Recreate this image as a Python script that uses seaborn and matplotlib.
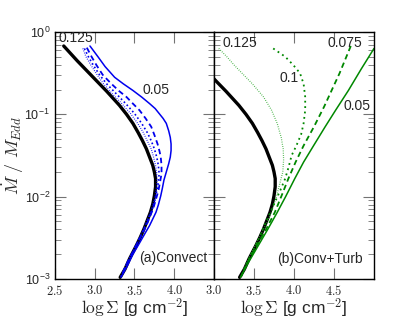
import numpy as np
import pandas as pd
import seaborn as sns
import matplotlib
matplotlib.use("Agg")
import matplotlib.pyplot as plt
from matplotlib.ticker import FixedLocator, FixedFormatter, LogLocator, NullFormatter

# reference curve (black, both panels): log(Mdot/MEdd) vs log Sigma
ref_logm = [-0.17, -0.35, -0.55, -0.72, -0.89, -1.00, -1.11, -1.22, -1.32, -1.42, -1.52, -1.62, -1.70,
            -1.78, -1.88, -1.99, -2.09, -2.19, -2.29, -2.39, -2.50, -2.60, -2.75, -2.88, -2.98]
ref_x = [2.61, 2.78, 2.98, 3.15, 3.31, 3.40, 3.48, 3.545, 3.60, 3.65, 3.69, 3.73, 3.75,
         3.765, 3.765, 3.75, 3.73, 3.70, 3.66, 3.62, 3.57, 3.52, 3.44, 3.38, 3.32]

# (a) convection only, blue
conv_005_logm = [-0.17, -0.30, -0.42, -0.55, -0.63, -0.71, -0.79, -0.87, -0.93, -0.99, -1.05, -1.11, -1.20,
                 -1.28, -1.36, -1.44, -1.52, -1.60, -1.70, -1.80, -1.90, -1.99, -2.10, -2.19, -2.27, -2.35,
                 -2.45, -2.56, -2.70, -2.84, -2.98]
conv_005_x = [2.94, 3.04, 3.13, 3.25, 3.36, 3.48, 3.59, 3.69, 3.76, 3.81, 3.86, 3.90, 3.93,
              3.95, 3.96, 3.96, 3.95, 3.93, 3.90, 3.87, 3.85, 3.83, 3.80, 3.77, 3.73, 3.69,
              3.63, 3.565, 3.48, 3.41, 3.33]
conv_0075_logm = [-0.19, -0.30, -0.40, -0.52, -0.63, -0.72, -0.79, -0.87, -0.95, -1.05, -1.15, -1.25, -1.36,
                  -1.45, -1.52, -1.62, -1.72, -1.83, -1.93, -2.03, -2.13, -2.23, -2.35, -2.50, -2.65, -2.80, -2.97]
conv_0075_x = [2.90, 2.96, 3.02, 3.10, 3.21, 3.31, 3.40, 3.48, 3.5625, 3.64, 3.71, 3.75, 3.79,
               3.815, 3.83, 3.84, 3.84, 3.82, 3.80, 3.77, 3.74, 3.70, 3.65, 3.57, 3.49, 3.41, 3.33]
conv_01_logm = [-0.20, -0.30, -0.40, -0.52, -0.63, -0.75, -0.87, -0.99, -1.11, -1.22, -1.32, -1.42, -1.52,
                -1.62, -1.72, -1.83, -1.93, -2.03, -2.13, -2.23, -2.35, -2.50, -2.65, -2.80, -2.97]
conv_01_x = [2.87, 2.92, 2.98, 3.06, 3.15, 3.27, 3.39, 3.50, 3.59, 3.66, 3.71, 3.75, 3.78,
             3.80, 3.81, 3.80, 3.78, 3.76, 3.73, 3.69, 3.64, 3.565, 3.49, 3.41, 3.33]
conv_0125_logm = [-0.20, -0.30, -0.40, -0.52, -0.63, -0.75, -0.87, -0.99, -1.11, -1.22, -1.32, -1.42, -1.52,
                  -1.62, -1.72, -1.83, -1.93, -2.03, -2.13, -2.23, -2.35, -2.50, -2.65, -2.80, -2.97]
conv_0125_x = [2.85, 2.89, 2.95, 3.03, 3.11, 3.22, 3.34, 3.45, 3.54, 3.61, 3.66, 3.71, 3.74,
               3.765, 3.78, 3.78, 3.77, 3.75, 3.72, 3.68, 3.63, 3.565, 3.49, 3.41, 3.33]

# (b) convection + turbulence, green
turb_0125_logm = [-0.20, -0.30, -0.40, -0.52, -0.63, -0.79, -0.95, -1.11, -1.28, -1.42, -1.55, -1.70,
                  -1.85, -2.00, -2.15, -2.30, -2.45, -2.62, -2.80, -2.97]
turb_0125_x = [3.06, 3.16, 3.25, 3.37, 3.48, 3.62, 3.72, 3.79, 3.84, 3.865, 3.87, 3.86,
               3.82, 3.78, 3.73, 3.67, 3.59, 3.50, 3.41, 3.34]
turb_01_logm = [-0.20, -0.30, -0.40, -0.50, -0.63, -0.79, -0.95, -1.11, -1.24, -1.38, -1.50, -1.65,
                -1.78, -1.92, -2.07, -2.20, -2.35, -2.50, -2.65, -2.80, -2.97]
turb_01_x = [3.74, 3.89, 3.99, 4.075, 4.12, 4.14, 4.14, 4.12, 4.09, 4.03, 3.97, 3.93,
             3.89, 3.83, 3.76, 3.70, 3.63, 3.565, 3.49, 3.41, 3.34]
turb_0075_logm = [-0.17, -0.50, -0.91, -1.15, -1.38, -1.58, -1.78, -2.00, -2.19, -2.40, -2.60, -2.80, -2.97]
turb_0075_x = [4.71, 4.57, 4.375, 4.25, 4.12, 4.02, 3.93, 3.84, 3.76, 3.65, 3.53, 3.42, 3.34]
turb_005_logm = [-0.20, -0.45, -0.71, -0.95, -1.15, -1.38, -1.58, -1.78, -2.00, -2.20, -2.40, -2.60, -2.80, -2.98]
turb_005_x = [5.0, 4.84, 4.68, 4.52, 4.39, 4.245, 4.12, 4.01, 3.895, 3.785, 3.67, 3.55, 3.43, 3.33]

sns.set_style("ticks")
plt.rcParams["font.family"] = ["Liberation Sans", "DejaVu Sans"]
plt.rcParams["mathtext.fontset"] = "cm"

fig = plt.figure(figsize=(4.16, 3.19), dpi=100)
ax1 = fig.add_axes([55 / 416, 40 / 319, 159 / 416, 247 / 319])
ax2 = fig.add_axes([214 / 416, 40 / 319, 160 / 416, 247 / 319])


def curve(ax, x, logm, **kw):
    df = pd.DataFrame({"x": x, "y": 10 ** np.array(logm)})
    sns.lineplot(data=df, x="x", y="y", ax=ax, sort=False, estimator=None, **kw)


blue = "#0000ee"
green = "#008800"

# black reference first, model curves drawn over it
curve(ax1, ref_x, ref_logm, color="black", lw=2.4)
curve(ax1, conv_0125_x, conv_0125_logm, color=blue, lw=0.9, linestyle=(0, (0.6, 1.2)))
curve(ax1, conv_01_x, conv_01_logm, color=blue, lw=1.2, linestyle=(0, (1, 1.5)))
curve(ax1, conv_0075_x, conv_0075_logm, color=blue, lw=1.3, linestyle=(0, (3, 2)))
curve(ax1, conv_005_x, conv_005_logm, color=blue, lw=1.1)

curve(ax2, ref_x, ref_logm, color="black", lw=2.4)
curve(ax2, turb_0125_x, turb_0125_logm, color="#33aa33", lw=0.9, linestyle=(0, (0.6, 1.2)))
curve(ax2, turb_01_x, turb_01_logm, color=green, lw=1.3, linestyle=(0, (1, 2)))
curve(ax2, turb_0075_x, turb_0075_logm, color=green, lw=1.3, linestyle=(0, (3, 2)))
curve(ax2, turb_005_x, turb_005_logm, color=green, lw=1.1)

for ax in (ax1, ax2):
    ax.set_yscale("log")
    ax.set_ylim(1e-3, 1)
    ax.yaxis.set_minor_locator(LogLocator(base=10, subs=np.arange(2, 10)))
    ax.yaxis.set_minor_formatter(NullFormatter())
    ax.tick_params(which="both", direction="in", top=True, right=True, color="0.45")
    ax.tick_params(which="major", length=8, labelsize=9)
    ax.tick_params(which="minor", length=4)
    for s in ax.spines.values():
        s.set_color("black")
        s.set_linewidth(1.0)
    ax.set_xlabel(r"$\log\Sigma$ [g cm$^{-2}$]", fontsize=12.5, labelpad=-1)
    ax.set_ylabel("")

ax1.set_xlim(2.5, 4.5)
ax1.xaxis.set_major_locator(FixedLocator([2.5, 3.0, 3.5, 4.0]))
ax1.xaxis.set_major_formatter(FixedFormatter(["$2.5$", "$3.0$", "$3.5$", "$4.0$"]))
ax2.set_xlim(3.0, 5.0)
ax2.xaxis.set_major_locator(FixedLocator([3.0, 3.5, 4.0, 4.5]))
ax2.xaxis.set_major_formatter(FixedFormatter(["$3.0$", "$3.5$", "$4.0$", "$4.5$"]))
ax2.tick_params(axis="y", which="both", labelleft=False)

ax1.set_ylabel(r"$\dot{M}\ /\ M_{Edd}$", fontsize=13)
ax1.yaxis.set_label_coords(-0.185, 0.5)

ax1.text(2.54, 10 ** -0.07, "0.125", fontsize=10, ha="left", va="center")
ax1.text(3.60, 10 ** -0.71, "0.05", fontsize=10, ha="left", va="center")
ax1.text(4.42, 10 ** -2.75, "(a)Convect", fontsize=10, ha="right", va="center")

ax2.text(3.11, 10 ** -0.13, "0.125", fontsize=10, ha="left", va="center")
ax2.text(3.82, 10 ** -0.56, "0.1", fontsize=10, ha="left", va="center")
ax2.text(4.42, 10 ** -0.13, "0.075", fontsize=10, ha="left", va="center")
ax2.text(4.62, 10 ** -0.90, "0.05", fontsize=10, ha="left", va="center")
ax2.text(4.86, 10 ** -2.76, "(b)Conv+Turb", fontsize=10, ha="right", va="center")

fig.savefig("out.png", dpi=100)
